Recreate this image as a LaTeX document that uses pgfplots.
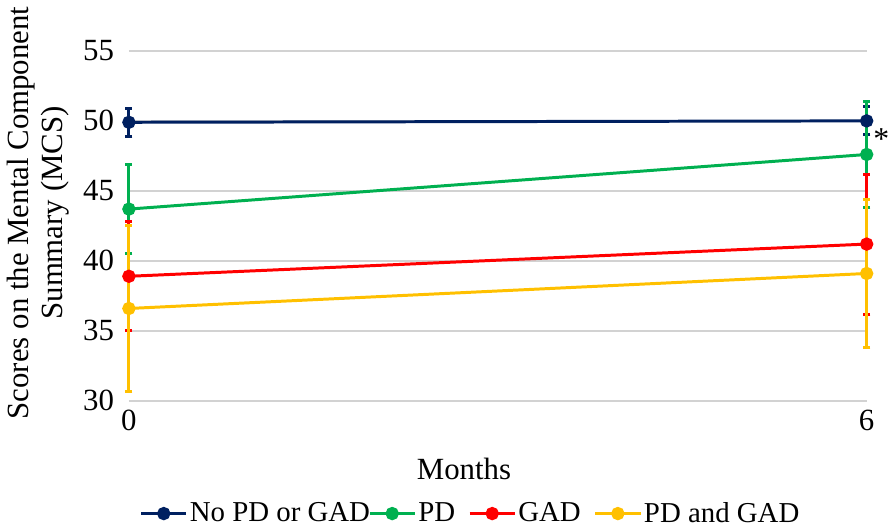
\documentclass[border=0pt]{standalone}
\usepackage{fontspec}
\setmainfont{Liberation Serif}
\usepackage{pgfplots}
\pgfplotsset{compat=1.18}

\definecolor{cNone}{HTML}{002060}
\definecolor{cPD}{HTML}{00B050}
\definecolor{cGAD}{HTML}{FF0000}
\definecolor{cBoth}{HTML}{FFC000}

\pgfplotsset{
  ebar/.style={color=#1, only marks, mark=*, mark size=2.6pt, forget plot,
    error bars/.cd, y dir=both, y explicit, error mark=|,
    error bar style={line width=1.5pt},
    error mark options={line width=1.5pt, mark size=1.8pt}},
  series/.style={line width=1.5pt, color=#1, mark=*, mark size=2.6pt,
    mark options={fill=#1, draw=#1}},
}

\begin{document}
\begin{tikzpicture}
\begin{axis}[
  scale only axis, width=371pt, height=176pt,
  xmin=0, xmax=6, ymin=30, ymax=55,
  xtick={0,6}, ytick={30,35,...,55},
  ymajorgrids, grid style={gray!35, line width=0.7pt},
  axis line style={draw=none},
  major tick length=0pt,
  /pgf/number format/assume math mode=true,
  tick label style={font=\fontsize{15.5}{17}\selectfont},
  yticklabel style={xshift=-4pt},
  xticklabel style={yshift=-1pt},
  xlabel={Months},
  xlabel style={font=\fontsize{15.5}{17}\selectfont, yshift=-7pt, xshift=-17pt},
  ylabel={Scores on the Mental Component\\Summary (MCS)},
  ylabel style={align=center, font=\fontsize{15.5}{17.5}\selectfont,
    at={(ticklabel cs:0.537)}},
  clip=false,
  legend columns=4,
  legend image code/.code={\draw[mark repeat=2, mark phase=2, #1]
    plot coordinates {(0cm,0cm) (0.4cm,0cm) (0.8cm,0cm)};},
  legend style={at={(0.463,-0.322)}, anchor=center, draw=none,
    font=\fontsize{14.5}{16}\selectfont, inner sep=0pt,
    nodes={inner xsep=1pt},
    /tikz/every even column/.append style={column sep=-2pt},
    /tikz/every odd column/.append style={column sep=0pt}},
]
% error bars first, so the markers and lines sit on top of them
\addplot[ebar=cNone] coordinates {(0,49.9) +- (0,1.0) (6,50.0) +- (0,1.0)};
\addplot[ebar=cPD]   coordinates {(0,43.7) +- (0,3.2) (6,47.6) +- (0,3.8)};
\addplot[ebar=cGAD]  coordinates {(0,38.9) +- (0,3.9) (6,41.2) +- (0,5.0)};
\addplot[ebar=cBoth] coordinates {(0,36.6) +- (0,5.9) (6,39.1) +- (0,5.3)};

\addplot[series=cNone] coordinates {(0,49.9) (6,50.0)};
\addplot[series=cPD]   coordinates {(0,43.7) (6,47.6)};
\addplot[series=cGAD]  coordinates {(0,38.9) (6,41.2)};
\addplot[series=cBoth] coordinates {(0,36.6) (6,39.1)};
\legend{No PD or GAD, PD\rule{7.5pt}{0pt}, GAD\rule{7.5pt}{0pt}, PD and GAD}

\node[anchor=center, font=\fontsize{16}{18}\selectfont] at (axis cs:6.12,48.7) {*};
\end{axis}
\end{tikzpicture}
\end{document}
